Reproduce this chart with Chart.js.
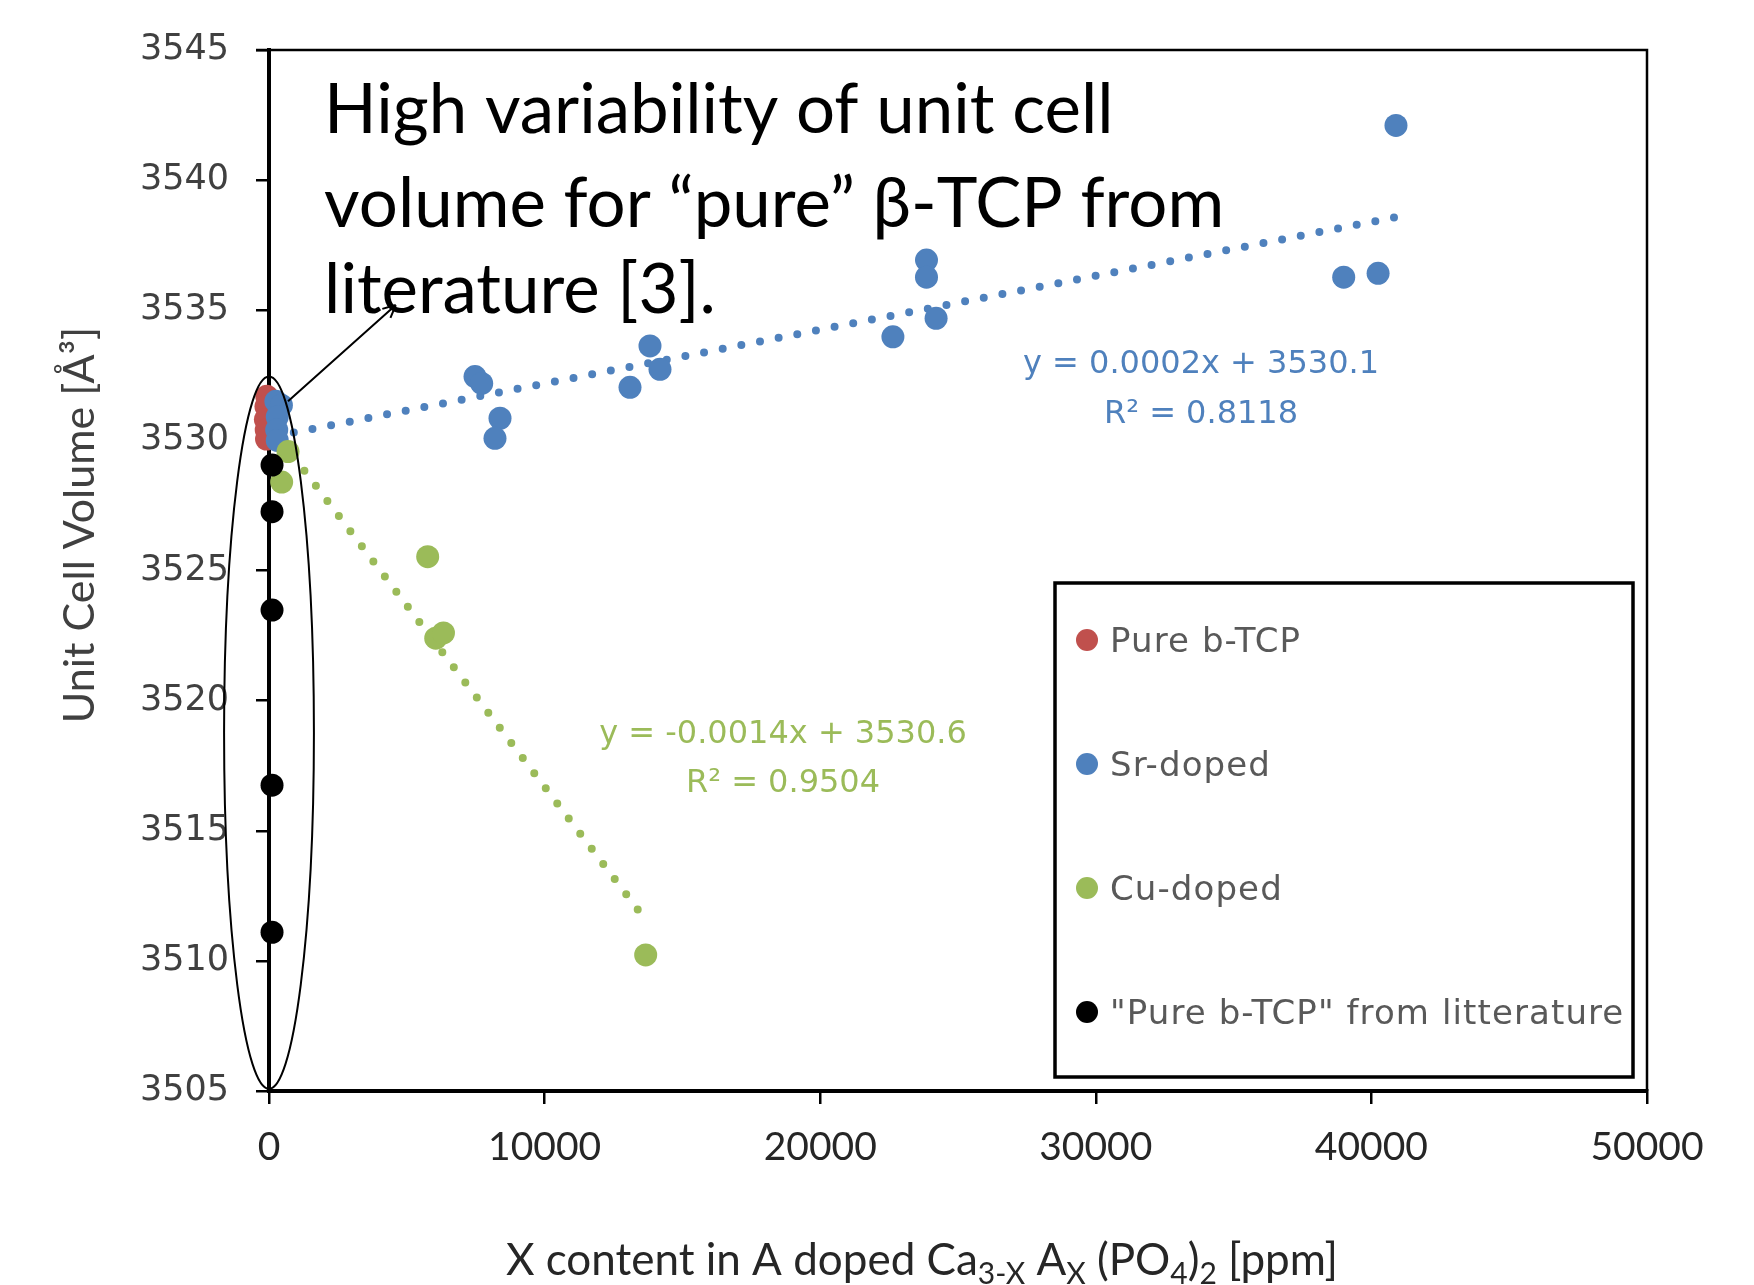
<!DOCTYPE html>
<html>
<head>
<meta charset="utf-8">
<script src="https://cdn.jsdelivr.net/npm/chart.js@4.4.1/dist/chart.umd.min.js"></script>
<style>
  html, body { margin: 0; padding: 0; background: #fff; }
  #wrap { width: 1754px; height: 1285px; }
</style>
</head>
<body>
<div id="wrap"><canvas id="chart" width="1754" height="1285"></canvas></div>
<script>
// ── 축 ────────────────────────────────────────
const xMin = 0, xMax = 50000, xStep = 10000;
const yMin = 3505, yMax = 3545, yStep = 5;
const xTickLabels = ['0', '10000', '20000', '30000', '40000', '50000'];
const yTickLabels = ['3505', '3510', '3515', '3520', '3525', '3530', '3535', '3540', '3545'];

// ── 시리즈 ─────────────────────────────────────
const seriesNames  = ['Pure b-TCP', 'Sr-doped', 'Cu-doped', '"Pure b-TCP" from litterature'];
const seriesColors = ['#C0504D', '#4F81BD', '#9BBB59', '#000000'];

const pureX = [-80, -110, -130, -100, -90];
const pureY = [3531.7, 3531.3, 3530.8, 3530.4, 3530.05];

const srX = [250, 450, 300, 280, 300, 7475, 7717, 8382, 8200, 13824, 14187, 13099,
             23857, 23857, 22638, 24205, 38995, 40243, 40892];
const srY = [3531.5, 3531.35, 3530.9, 3530.4, 3530.0, 3532.45, 3532.19, 3530.85, 3530.08, 3533.63, 3532.73, 3532.04,
             3536.93, 3536.27, 3533.98, 3534.69, 3536.27, 3536.42, 3542.1];

const cuX = [690, 460, 5758, 6050, 6330, 13668];
const cuY = [3529.57, 3528.4, 3525.53, 3522.4, 3522.6, 3510.23];

const litX = [110, 110, 110, 110, 110];
const litY = [3529.05, 3527.26, 3523.48, 3516.75, 3511.1];

// 추세선 양 끝점
const srTrendX = [900, 41000];
const srTrendY = [3530.3, 3538.6];
const cuTrendX = [450, 13650];
const cuTrendY = [3530.0, 3511.6];

const srEquation = ['y = 0.0002x + 3530.1', 'R² = 0.8118'];
const cuEquation = ['y = -0.0014x + 3530.6', 'R² = 0.9504'];

const noteLines = ['High variability of unit cell', 'volume for \u201cpure\u201d \u03b2-TCP from', 'literature [3].'];

function pts(xs, ys) {
  return xs.map((x, i) => ({ x: x, y: ys[i] }));
}

// ── 주석 위치 (데이터 좌표) ───────────────────────
const srEqPos = { x: 33817, y: [3532.9, 3531.0] };
const cuEqPos = { x: 18650, y: [3518.7, 3516.8] };
const notePos = { x: 2000, y: [3541.8, 3538.2, 3534.9] };
const arrowFrom = { x: 690, y: 3531.5 };
const arrowTo   = { x: 4600, y: 3535.2 };
const ellipse   = { x: 0, yTop: 3532.45, yBottom: 3505.08, halfW: 1630 };

function dotted(data, color) {
  return {
    type: 'scatter',
    data: data,
    showLine: true,
    borderColor: color,
    borderWidth: 8,
    borderDash: [0, 19],
    borderCapStyle: 'round',
    pointRadius: 0,
    pointHoverRadius: 0,
    fill: false,
    clip: false,
    order: 10,
  };
}

function marker(i, data, order) {
  return {
    label: seriesNames[i],
    data: data,
    backgroundColor: seriesColors[i],
    borderColor: seriesColors[i],
    borderWidth: 0,
    pointRadius: 11.5,
    pointHoverRadius: 11.5,
    clip: false,
    order: order,
  };
}

// ── 플러그인 ───────────────────────────────────
const framePlugin = {
  id: 'frame',
  beforeDatasetsDraw(chart) {
    const a = chart.chartArea, ctx = chart.ctx;
    ctx.save();
    ctx.strokeStyle = '#000';
    ctx.lineWidth = 2.5;
    ctx.beginPath();
    ctx.moveTo(a.left - 13, a.top);
    ctx.lineTo(a.right, a.top);
    ctx.lineTo(a.right, a.bottom);
    ctx.stroke();
    ctx.restore();
  }
};

const notesPlugin = {
  id: 'notes',
  afterDatasetsDraw(chart) {
    const ctx = chart.ctx, xs = chart.scales.x, ys = chart.scales.y;
    ctx.save();

    // 타원
    const cx = xs.getPixelForValue(ellipse.x);
    const top = ys.getPixelForValue(ellipse.yTop), bot = ys.getPixelForValue(ellipse.yBottom);
    const rx = xs.getPixelForValue(ellipse.halfW) - xs.getPixelForValue(0);
    ctx.strokeStyle = '#000';
    ctx.lineWidth = 2;
    ctx.beginPath();
    ctx.ellipse(cx, (top + bot) / 2, rx, (bot - top) / 2, 0, 0, Math.PI * 2);
    ctx.stroke();

    // 화살표
    const x1 = xs.getPixelForValue(arrowFrom.x), y1 = ys.getPixelForValue(arrowFrom.y);
    const x2 = xs.getPixelForValue(arrowTo.x), y2 = ys.getPixelForValue(arrowTo.y);
    ctx.lineWidth = 2;
    ctx.beginPath();
    ctx.moveTo(x1, y1);
    ctx.lineTo(x2, y2);
    const ang = Math.atan2(y2 - y1, x2 - x1);
    [0.45, -0.45].forEach(d => {
      ctx.moveTo(x2, y2);
      ctx.lineTo(x2 - 14 * Math.cos(ang + d), y2 - 14 * Math.sin(ang + d));
    });
    ctx.stroke();

    // 큰 설명 문구
    ctx.fillStyle = '#000';
    ctx.font = '69px Lato, "Open Sans", sans-serif';
    ctx.textAlign = 'left';
    ctx.textBaseline = 'alphabetic';
    noteLines.forEach((t, i) => ctx.fillText(t, xs.getPixelForValue(notePos.x), ys.getPixelForValue(notePos.y[i])));

    // 회귀식
    ctx.font = '32px "DejaVu Sans", sans-serif';
    ctx.textAlign = 'center';
    ctx.textBaseline = 'middle';
    ctx.fillStyle = seriesColors[1];
    srEquation.forEach((t, i) => ctx.fillText(t, xs.getPixelForValue(srEqPos.x), ys.getPixelForValue(srEqPos.y[i])));
    ctx.fillStyle = seriesColors[2];
    cuEquation.forEach((t, i) => ctx.fillText(t, xs.getPixelForValue(cuEqPos.x), ys.getPixelForValue(cuEqPos.y[i])));
    ctx.restore();
  }
};

const legendPlugin = {
  id: 'boxLegend',
  afterDraw(chart) {
    const ctx = chart.ctx;
    ctx.save();
    ctx.fillStyle = '#fff';
    ctx.fillRect(1055, 583, 578, 494);
    ctx.strokeStyle = '#000';
    ctx.lineWidth = 3.5;
    ctx.strokeRect(1055, 583, 578, 494);
    ctx.font = '34px "DejaVu Sans", sans-serif';
    ctx.letterSpacing = '1.1px';
    ctx.textAlign = 'left';
    ctx.textBaseline = 'middle';
    seriesNames.forEach((name, i) => {
      const y = 642 + i * 124;
      ctx.fillStyle = seriesColors[i];
      ctx.beginPath();
      ctx.arc(1087, y - 2, 11, 0, Math.PI * 2);
      ctx.fill();
      ctx.fillStyle = '#595959';
      ctx.fillText(name, 1110, y + 1);
    });
    ctx.restore();
  }
};

const titlesPlugin = {
  id: 'titles',
  afterDraw(chart) {
    const ctx = chart.ctx;
    ctx.save();
    // y축 제목
    ctx.translate(80, 525);
    ctx.rotate(-Math.PI / 2);
    ctx.fillStyle = '#404040';
    ctx.font = '43px Lato, sans-serif';
    ctx.textAlign = 'center';
    ctx.textBaseline = 'middle';
    ctx.fillText('Unit Cell Volume [\u00c5\u00b3]', 0, 0);
    ctx.restore();

    // x축 제목 (아래첨자 포함)
    const parts = [
      ['X content in A doped Ca', false], ['3-X', true], [' A', false], ['X', true],
      [' (PO', false], ['4', true], [')', false], ['2', true], [' [ppm]', false],
    ];
    const big = '44px Lato, sans-serif', small = '30px Lato, sans-serif';
    ctx.save();
    ctx.fillStyle = '#262626';
    ctx.textBaseline = 'alphabetic';
    let w = 0;
    parts.forEach(p => { ctx.font = p[1] ? small : big; w += ctx.measureText(p[0]).width; });
    let x = 922 - w / 2;
    parts.forEach(p => {
      ctx.font = p[1] ? small : big;
      ctx.fillText(p[0], x, p[1] ? 1284 : 1275);
      x += ctx.measureText(p[0]).width;
    });
    ctx.restore();
  }
};

new Chart(document.getElementById('chart'), {
  type: 'scatter',
  data: {
    datasets: [
      marker(3, pts(litX, litY), 1),
      marker(2, pts(cuX, cuY), 2),
      marker(1, pts(srX, srY), 3),
      marker(0, pts(pureX, pureY), 4),
      dotted(pts(srTrendX, srTrendY), seriesColors[1]),
      dotted(pts(cuTrendX, cuTrendY), seriesColors[2]),
    ],
  },
  options: {
    responsive: false,
    animation: false,
    devicePixelRatio: 1,
    layout: { padding: { left: 0, top: 50, right: 107, bottom: 0 } },
    plugins: {
      legend: { display: false },
      tooltip: { enabled: false },
    },
    scales: {
      x: {
        type: 'linear',
        min: xMin, max: xMax,
        afterFit: s => { s.height = 194; },
        grid: { drawOnChartArea: false, drawTicks: true, tickLength: 13, lineWidth: 2.5, color: '#000' },
        border: { display: true, width: 4, color: '#000' },
        ticks: {
          stepSize: xStep,
          padding: 20,
          color: '#262626',
          font: { family: 'Lato', size: 39 },
          maxRotation: 0,
          callback: (v, i) => xTickLabels[i],
        },
      },
      y: {
        type: 'linear',
        min: yMin, max: yMax,
        afterFit: s => { s.width = 269; },
        grid: { drawOnChartArea: false, drawTicks: true, tickLength: 13, lineWidth: 2.5, color: '#000' },
        border: { display: true, width: 4, color: '#000' },
        ticks: {
          stepSize: yStep,
          padding: 27,
          color: '#404040',
          font: { family: 'DejaVu Sans', size: 35 },
          callback: (v, i) => yTickLabels[i],
        },
      },
    },
  },
  plugins: [framePlugin, notesPlugin, legendPlugin, titlesPlugin],
});
</script>
</body>
</html>
